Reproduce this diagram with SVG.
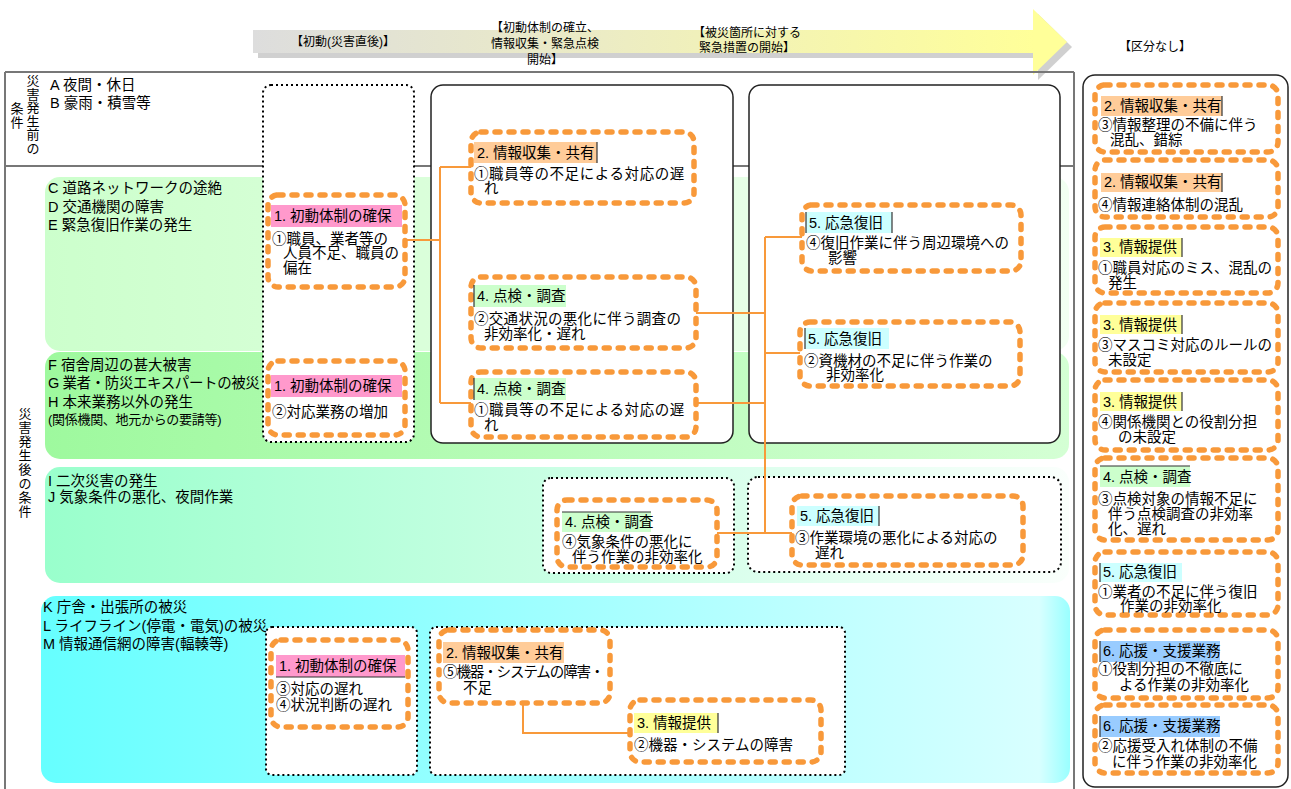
<svg xmlns="http://www.w3.org/2000/svg" width="1291" height="789" viewBox="0 0 1291 789">
  <style>
    text { font-family: "Liberation Sans", "Noto Sans CJK JP", sans-serif; fill: #000; }
    .b { font-size: 14.5px; }
    .h { font-size: 12px; text-anchor: middle; }
    .v { font-size: 13px; text-anchor: middle; }
    .o { fill: #fff; stroke: #f8993a; stroke-width: 5.5; stroke-dasharray: 5 9; stroke-linecap: round; }
    .d { fill: #fff; stroke: #000; stroke-width: 2; stroke-dasharray: 2 3; }
    .s { fill: #fff; stroke: #222; stroke-width: 1.5; }
    .c { fill: none; stroke: #f8993a; stroke-width: 2; }
    .f { fill: none; stroke: #777; stroke-width: 2; }
    .e { stroke: #333; stroke-width: 1.2; }
    .t1 { fill: #ff99cc; }
    .t2 { fill: #ffcc99; }
    .t3 { fill: #ffff99; }
    .t4 { fill: #ccffcc; }
    .t5 { fill: #ccffff; }
    .t6 { fill: #99ccff; }
  </style>
  <defs>
    <linearGradient id="gArrow" x1="0" y1="0" x2="1" y2="0">
      <stop offset="0" stop-color="#dddddd"/>
      <stop offset="0.45" stop-color="#ececc4"/>
      <stop offset="1" stop-color="#ffff99"/>
    </linearGradient>
    <linearGradient id="gC" x1="0" y1="0" x2="1" y2="0">
      <stop offset="0" stop-color="#ccffcc"/>
      <stop offset="1" stop-color="#f2fff2"/>
    </linearGradient>
    <linearGradient id="gF" x1="0" y1="0" x2="1" y2="0">
      <stop offset="0" stop-color="#9ef99e"/>
      <stop offset="1" stop-color="#d4ffd4"/>
    </linearGradient>
    <linearGradient id="gI" x1="0" y1="0" x2="1" y2="0">
      <stop offset="0" stop-color="#99ffcc"/>
      <stop offset="1" stop-color="#fafffc"/>
    </linearGradient>
    <linearGradient id="gK" x1="0" y1="0" x2="1" y2="0">
      <stop offset="0" stop-color="#66ffff"/>
      <stop offset="0.97" stop-color="#d8ffff"/>
      <stop offset="1" stop-color="#99ffff"/>
    </linearGradient>
  </defs>

  <!-- time axis arrow -->
  <g id="timeline">
    <rect x="258" y="35" width="780" height="23" fill="#d0d0d0"/>
    <polygon points="1038,14 1072,47 1038,80" fill="#d0d0d0"/>
    <rect x="253" y="30" width="782" height="23" fill="url(#gArrow)"/>
    <polygon points="1033,9 1067,42 1033,75" fill="#ffff99"/>
    <text class="h" x="343" y="46">【初動(災害直後)】</text>
    <text class="h"><tspan x="545" y="32">【初動体制の確立、</tspan><tspan x="545" y="48">情報収集・緊急点検</tspan><tspan x="545" y="64">開始】</tspan></text>
    <text class="h"><tspan x="747" y="37">【被災箇所に対する</tspan><tspan x="747" y="52">緊急措置の開始】</tspan></text>
    <text class="h" x="1155" y="51">【区分なし】</text>
  </g>

  <!-- outer frame -->
  <g id="frame">
    <path class="f" d="M5 72 H1074 M5 72 V789 M1074 72 V789 M5 166 H1074"/>
    <text class="v"><tspan x="33" y="85">災</tspan><tspan x="33" y="98.5">害</tspan><tspan x="33" y="112">発</tspan><tspan x="33" y="125.5">生</tspan><tspan x="33" y="139">前</tspan><tspan x="33" y="152.5">の</tspan><tspan x="17" y="113">条</tspan><tspan x="17" y="127">件</tspan></text>
    <text class="v"><tspan x="25" y="418">災</tspan><tspan x="25" y="432">害</tspan><tspan x="25" y="446">発</tspan><tspan x="25" y="460">生</tspan><tspan x="25" y="474">後</tspan><tspan x="25" y="488">の</tspan><tspan x="25" y="502">条</tspan><tspan x="25" y="516">件</tspan></text>
    <text class="b"><tspan x="50" y="90">A 夜間・休日</tspan><tspan x="50" y="108">B 豪雨・積雪等</tspan></text>
  </g>

  <!-- condition bands -->
  <g id="band-CDE">
    <rect x="45" y="177" width="1024" height="174" rx="15" fill="url(#gC)"/>
    <text class="b"><tspan x="48" y="193">C 道路ネットワークの途絶</tspan><tspan x="48" y="212">D 交通機関の障害</tspan><tspan x="48" y="230">E 緊急復旧作業の発生</tspan></text>
  </g>
  <g id="band-FGH">
    <rect x="45" y="352" width="1024" height="107" rx="15" fill="url(#gF)"/>
    <text class="b"><tspan x="48" y="370">F 宿舎周辺の甚大被害</tspan><tspan x="48" y="388" letter-spacing="-0.4">G 業者・防災エキスパートの被災</tspan><tspan x="48" y="407">H 本来業務以外の発生</tspan><tspan x="48" y="424" font-size="13" letter-spacing="-0.3">(関係機関、地元からの要請等)</tspan></text>
  </g>
  <g id="band-IJ">
    <rect x="45" y="467" width="1024" height="116" rx="15" fill="url(#gI)"/>
    <text class="b"><tspan x="48" y="486">I 二次災害の発生</tspan><tspan x="48" y="502">J 気象条件の悪化、夜間作業</tspan></text>
  </g>
  <g id="band-KLM">
    <rect x="41" y="596" width="1029" height="187" rx="15" fill="url(#gK)"/>
    <text class="b"><tspan x="43" y="612">K 庁舎・出張所の被災</tspan><tspan x="43" y="631">L ライフライン(停電・電気)の被災</tspan><tspan x="43" y="649">M 情報通信網の障害(輻輳等)</tspan></text>
  </g>

  <!-- phase containers -->
  <g id="phase-boxes">
    <rect class="d" x="263" y="85" width="151" height="357" rx="8"/>
    <rect class="s" x="431" y="85" width="302" height="358" rx="12"/>
    <rect class="s" x="749" y="85" width="311" height="358" rx="12"/>
    <rect class="d" x="543" y="478" width="191" height="95" rx="8"/>
    <rect class="d" x="748" y="477" width="313" height="95" rx="10"/>
    <rect class="d" x="266" y="627" width="151" height="148" rx="6"/>
    <rect class="d" x="430" y="627" width="415" height="148" rx="6"/>
    <rect class="s" x="1083" y="75" width="205" height="712" rx="12"/>
  </g>

  <!-- connectors -->
  <g id="connectors">
    <path class="c" d="M405 240 H440 M440 167 V403 M440 167 H471 M440 403 H471"/>
    <path class="c" d="M696 313 H765 M696 403 H765 M765 237 V533 M765 237 H802 M765 353 H800 M717 533 H792"/>
    <path class="c" d="M523 703 V733 H630"/>
  </g>

  <!-- issue nodes -->
  <g id="n1">
    <rect class="o" x="268" y="195" width="137" height="92" rx="10"/>
    <rect class="t1" x="271" y="205" width="131" height="22"/>
    <text class="b"><tspan x="274" y="221">1. 初動体制の確保</tspan><tspan x="272" y="244">①職員、業者等の</tspan><tspan x="283" y="258">人員不足、職員の</tspan><tspan x="283" y="273">偏在</tspan></text>
  </g>
  <g id="n2">
    <rect class="o" x="268" y="361" width="137" height="74" rx="10"/>
    <rect class="t1" x="271" y="375" width="131" height="22"/>
    <text class="b"><tspan x="274" y="391">1. 初動体制の確保</tspan><tspan x="272" y="417">②対応業務の増加</tspan></text>
  </g>
  <g id="n3">
    <rect class="o" x="471" y="132" width="223" height="71" rx="10"/>
    <rect class="t2" x="474" y="142" width="123" height="21"/>
    <line class="e" x1="597" y1="142" x2="597" y2="163"/>
    <text class="b"><tspan x="477" y="158">2. 情報収集・共有</tspan><tspan x="474" y="179" letter-spacing="0.6">①職員等の不足による対応の遅</tspan><tspan x="484" y="193">れ</tspan></text>
  </g>
  <g id="n4">
    <rect class="o" x="471" y="277" width="225" height="71" rx="10"/>
    <rect class="t4" x="474" y="285" width="92" height="22"/>
    <line class="e" x1="474" y1="285" x2="474" y2="307"/>
    <text class="b"><tspan x="477" y="301">4. 点検・調査</tspan><tspan x="474" y="324" letter-spacing="0.3">②交通状況の悪化に伴う調査の</tspan><tspan x="484" y="339">非効率化・遅れ</tspan></text>
  </g>
  <g id="n5">
    <rect class="o" x="471" y="372" width="225" height="65" rx="10"/>
    <rect class="t4" x="474" y="378" width="92" height="22"/>
    <line class="e" x1="474" y1="378" x2="474" y2="400"/>
    <text class="b"><tspan x="477" y="394">4. 点検・調査</tspan><tspan x="474" y="415" letter-spacing="0.6">①職員等の不足による対応の遅</tspan><tspan x="484" y="430">れ</tspan></text>
  </g>
  <g id="n6">
    <rect class="o" x="802" y="205" width="219" height="66" rx="10"/>
    <rect class="t5" x="806" y="212" width="86" height="21"/>
    <line class="e" x1="806" y1="212" x2="806" y2="233"/>
    <line class="e" x1="892" y1="212" x2="892" y2="233"/>
    <text class="b"><tspan x="809" y="228">5. 応急復旧</tspan><tspan x="806" y="248">④復旧作業に伴う周辺環境への</tspan><tspan x="828" y="263">影響</tspan></text>
  </g>
  <g id="n7">
    <rect class="o" x="800" y="322" width="220" height="64" rx="10"/>
    <rect class="t5" x="805" y="328" width="84" height="21"/>
    <line class="e" x1="805" y1="328" x2="805" y2="349"/>
    <text class="b"><tspan x="808" y="344">5. 応急復旧</tspan><tspan x="804" y="366">②資機材の不足に伴う作業の</tspan><tspan x="826" y="380">非効率化</tspan></text>
  </g>
  <g id="n8">
    <rect class="o" x="557" y="500" width="160" height="67" rx="10"/>
    <rect class="t4" x="562" y="512" width="89" height="20"/>
    <line class="e" x1="562" y1="512" x2="651" y2="512"/>
    <text class="b"><tspan x="565" y="527">4. 点検・調査</tspan><tspan x="562" y="547">④気象条件の悪化に</tspan><tspan x="572" y="562">伴う作業の非効率化</tspan></text>
  </g>
  <g id="n9">
    <rect class="o" x="792" y="496" width="231" height="69" rx="10"/>
    <rect class="t5" x="797" y="506" width="82" height="20"/>
    <line class="e" x1="879" y1="506" x2="879" y2="526"/>
    <text class="b"><tspan x="800" y="521">5. 応急復旧</tspan><tspan x="795" y="543">③作業環境の悪化による対応の</tspan><tspan x="815" y="558">遅れ</tspan></text>
  </g>
  <g id="n10">
    <rect class="o" x="271" y="640" width="137" height="87" rx="10"/>
    <rect class="t1" x="276" y="655" width="129" height="22"/>
    <line class="e" x1="276" y1="677" x2="405" y2="677"/>
    <text class="b"><tspan x="279" y="671">1. 初動体制の確保</tspan><tspan x="276" y="694">③対応の遅れ</tspan><tspan x="276" y="710">④状況判断の遅れ</tspan></text>
  </g>
  <g id="n11">
    <rect class="o" x="439" y="630" width="171" height="73" rx="10"/>
    <rect class="t2" x="443" y="642" width="121" height="21"/>
    <text class="b"><tspan x="446" y="658">2. 情報収集・共有</tspan><tspan x="443" y="677" letter-spacing="-1.1">⑤機器・システムの障害・</tspan><tspan x="463" y="693">不足</tspan></text>
  </g>
  <g id="n12">
    <rect class="o" x="630" y="700" width="191" height="62" rx="10"/>
    <rect class="t3" x="634" y="713" width="84" height="20"/>
    <line class="e" x1="718" y1="713" x2="718" y2="733"/>
    <text class="b"><tspan x="637" y="728">3. 情報提供</tspan><tspan x="634" y="750">②機器・システムの障害</tspan></text>
  </g>

  <!-- unclassified issues -->
  <g id="r1">
    <rect class="o" x="1095" y="85" width="183" height="67" rx="10"/>
    <rect class="t2" x="1101" y="96" width="121" height="20"/>
    <line class="e" x1="1222" y1="96" x2="1222" y2="116"/>
    <text class="b"><tspan x="1104" y="111">2. 情報収集・共有</tspan><tspan x="1098" y="130">③情報整理の不備に伴う</tspan><tspan x="1110" y="145">混乱、錯綜</tspan></text>
  </g>
  <g id="r2">
    <rect class="o" x="1095" y="160" width="183" height="57" rx="10"/>
    <rect class="t2" x="1101" y="173" width="121" height="19"/>
    <line class="e" x1="1222" y1="173" x2="1222" y2="192"/>
    <text class="b"><tspan x="1104" y="187">2. 情報収集・共有</tspan><tspan x="1098" y="210">④情報連絡体制の混乱</tspan></text>
  </g>
  <g id="r3">
    <rect class="o" x="1095" y="227" width="183" height="66" rx="10"/>
    <rect class="t3" x="1100" y="238" width="82" height="19"/>
    <line class="e" x1="1182" y1="238" x2="1182" y2="257"/>
    <text class="b"><tspan x="1103" y="252">3. 情報提供</tspan><tspan x="1098" y="273">①職員対応のミス、混乱の</tspan><tspan x="1108" y="288">発生</tspan></text>
  </g>
  <g id="r4">
    <rect class="o" x="1095" y="303" width="183" height="69" rx="10"/>
    <rect class="t3" x="1100" y="315" width="82" height="19"/>
    <line class="e" x1="1182" y1="315" x2="1182" y2="334"/>
    <text class="b"><tspan x="1103" y="330">3. 情報提供</tspan><tspan x="1098" y="350">③マスコミ対応のルールの</tspan><tspan x="1108" y="365">未設定</tspan></text>
  </g>
  <g id="r5">
    <rect class="o" x="1095" y="380" width="183" height="70" rx="10"/>
    <rect class="t3" x="1100" y="392" width="82" height="19"/>
    <line class="e" x1="1182" y1="392" x2="1182" y2="411"/>
    <text class="b"><tspan x="1103" y="407">3. 情報提供</tspan><tspan x="1098" y="427">④関係機関との役割分担</tspan><tspan x="1118" y="442">の未設定</tspan></text>
  </g>
  <g id="r6">
    <rect class="o" x="1095" y="458" width="183" height="82" rx="10"/>
    <rect class="t4" x="1100" y="466" width="90" height="21"/>
    <line class="e" x1="1100" y1="466" x2="1190" y2="466"/>
    <text class="b"><tspan x="1103" y="482">4. 点検・調査</tspan><tspan x="1098" y="504">③点検対象の情報不足に</tspan><tspan x="1108" y="519">伴う点検調査の非効率</tspan><tspan x="1108" y="534">化、遅れ</tspan></text>
  </g>
  <g id="r7">
    <rect class="o" x="1095" y="552" width="183" height="63" rx="10"/>
    <rect class="t5" x="1100" y="563" width="82" height="19"/>
    <line class="e" x1="1100" y1="563" x2="1100" y2="582"/>
    <text class="b"><tspan x="1103" y="577">5. 応急復旧</tspan><tspan x="1098" y="597">①業者の不足に伴う復旧</tspan><tspan x="1120" y="611">作業の非効率化</tspan></text>
  </g>
  <g id="r8">
    <rect class="o" x="1095" y="630" width="183" height="68" rx="10"/>
    <rect class="t6" x="1100" y="641" width="120" height="21"/>
    <line class="e" x1="1100" y1="641" x2="1100" y2="662"/>
    <text class="b"><tspan x="1103" y="656">6. 応援・支援業務</tspan><tspan x="1098" y="674">①役割分担の不徹底に</tspan><tspan x="1119" y="690">よる作業の非効率化</tspan></text>
  </g>
  <g id="r9">
    <rect class="o" x="1095" y="705" width="183" height="68" rx="10"/>
    <rect class="t6" x="1100" y="716" width="120" height="21"/>
    <line class="e" x1="1100" y1="716" x2="1100" y2="737"/>
    <text class="b"><tspan x="1103" y="731">6. 応援・支援業務</tspan><tspan x="1098" y="751">②応援受入れ体制の不備</tspan><tspan x="1112" y="767">に伴う作業の非効率化</tspan></text>
  </g>
</svg>
